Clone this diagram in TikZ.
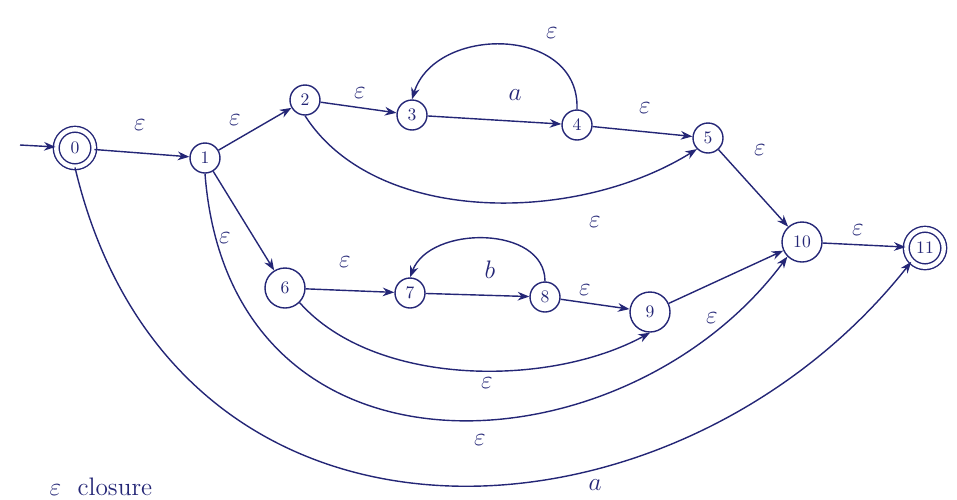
\documentclass[tikz,border=0pt]{standalone}
\usepackage{tikz}
\usetikzlibrary{arrows.meta, positioning}
\definecolor{ink}{RGB}{36, 38, 118}

\begin{document}
\begin{tikzpicture}[
    >=Stealth,
    state/.style={circle, draw=ink, thick, minimum size=0.6cm, inner sep=0pt, font=\normalsize, text=ink},
    bigstate/.style={state, minimum size=0.8cm},
    accept/.style={state, double, double distance=2.5pt, minimum size=0.75cm},
    arr/.style={->, thick, ink},
    lbl/.style={font=\Large, text=ink}
  ]

  \useasboundingbox (0,0) rectangle (19.14,-9.98);

  % States
  \node[accept] (n0) at (1.5,-2.96) {0};
  \node[state] (n1) at (4.1,-3.16) {1};
  \node[state] (n2) at (6.1,-2.0) {2};
  \node[state] (n3) at (8.24,-2.3) {3};
  \node[state] (n4) at (11.54,-2.5) {4};
  \node[state] (n5) at (14.16,-2.76) {5};
  \node[bigstate] (n6) at (5.7,-5.76) {6};
  \node[state] (n7) at (8.2,-5.86) {7};
  \node[state] (n8) at (10.9,-5.94) {8};
  \node[bigstate] (n9) at (13.0,-6.24) {9};
  \node[bigstate] (n10) at (16.04,-4.84) {10};
  \node[accept] (n11) at (18.5,-4.96) {11};

  % Start
  \coordinate (start) at (0.4,-2.9);
  \draw[arr] (start) -- (n0);

  % Straight transitions
  \draw[arr] (n0) -- (n1);
  \draw[arr] (n1) -- (n2);
  \draw[arr] (n2) -- (n3);
  \draw[arr] (n3) -- (n4);
  \draw[arr] (n4) -- (n5);
  \draw[arr] (n5) -- (n10);
  \draw[arr] (n1) -- (n6);
  \draw[arr] (n6) -- (n7);
  \draw[arr] (n7) -- (n8);
  \draw[arr] (n8) -- (n9);
  \draw[arr] (n9) -- (n10);
  \draw[arr] (n10) -- (n11);

  % Loops back
  \draw[arr] (n4.north) .. controls (11.6,-0.5) and (8.7,-0.5) .. (n3.north);
  \draw[arr] (n8.north) .. controls (10.9,-4.5) and (8.6,-4.5) .. (n7.north);

  % Bypass curves
  \draw[arr] (n2.south) .. controls (7.5,-4.5) and (11.5,-4.5) .. (n5.south west);
  \draw[arr] (n6.south east) .. controls (7.5,-7.75) and (11,-7.75) .. (n9.south);
  \draw[arr] (n1.south) .. controls (4.6,-10) and (12.5,-9.5) .. (n10.south west);
  \draw[arr] (n0.south) .. controls (3.5,-11.8) and (13.5,-11.2) .. (n11.south west);

  % Labels
  \node[lbl] (l01) at (2.8,-2.5) {$\varepsilon$};
  \node[lbl] (l12) at (4.7,-2.4) {$\varepsilon$};
  \node[lbl] (l23) at (7.2,-1.86) {$\varepsilon$};
  \node[lbl] (l34) at (10.3,-1.9) {$a$};
  \node[lbl] (l43) at (11.04,-0.66) {$\varepsilon$};
  \node[lbl] (l45) at (12.9,-2.16) {$\varepsilon$};
  \node[lbl] (l25) at (11.9,-4.44) {$\varepsilon$};
  \node[lbl] (l510) at (15.2,-3.0) {$\varepsilon$};
  \node[lbl] (l1011) at (17.16,-4.6) {$\varepsilon$};
  \node[lbl] (l16) at (4.5,-4.76) {$\varepsilon$};
  \node[lbl] (l67) at (6.9,-5.24) {$\varepsilon$};
  \node[lbl] (l78) at (9.8,-5.4) {$b$};
  \node[lbl] (l89) at (11.7,-5.8) {$\varepsilon$};
  \node[lbl] (l910) at (14.24,-6.36) {$\varepsilon$};
  \node[lbl] (l69) at (9.74,-7.66) {$\varepsilon$};
  \node[lbl] (l110) at (9.6,-8.8) {$\varepsilon$};
  \node[lbl] (l011) at (11.9,-9.7) {$a$};

  % Note at the foot
  \node[font=\Large, text=ink, anchor=south west, inner sep=1pt] (note) at (0.95,-9.96) {$\varepsilon$\ \ closure};

\end{tikzpicture}
\end{document}
